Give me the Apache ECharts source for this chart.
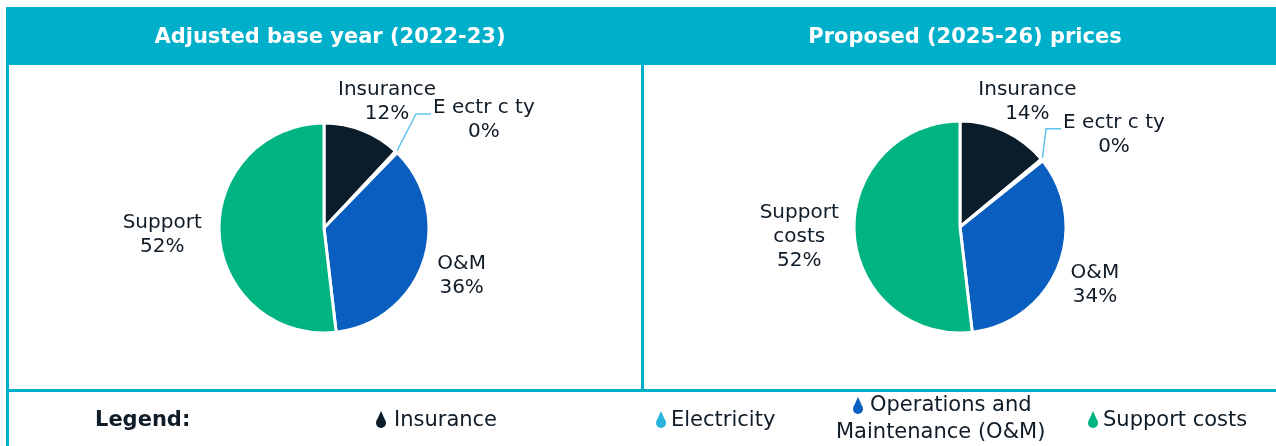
<!DOCTYPE html>
<html>
<head>
    <meta charset="utf-8">
    <script src="https://cdn.jsdelivr.net/npm/echarts@6/dist/echarts.min.js"></script>
    <style>
        html, body { margin: 0; padding: 0; background: #fff; }
    </style>
</head>
<body>
    <div id="main" style="width:1276px;height:446px;"></div>
    <script type="text/javascript">
        // slice categories (legend names) and colours
        var categories = ['Insurance', 'Electricity', 'O&M', 'Support costs'];
        var sliceColors = ['#0b1d2b', '#2ab5dc', '#0a5ebf', '#00b482'];

        // labels as printed on each pie
        var baseLabels = ['Insurance', 'E ectr c ty', 'O&M', 'Support'];
        var propLabels = ['Insurance', 'E ectr c ty', 'O&M', 'Support\ncosts'];

        // shares (%), electricity is a sliver that rounds to 0%
        var baseValues = [12, 0.3, 36, 52];
        var propValues = [14, 0.3, 34, 52];

        var panelTitles = ['Adjusted base year (2022-23)', 'Proposed (2025-26) prices'];
        var legendNames = ['Insurance', 'Electricity', 'Operations and\nMaintenance (O&M)', 'Support costs'];

        var teal = '#00b0ca';
        var ink = '#101c28';
        var font = 'DejaVu Sans';

        // label nudges per pie (after default outside layout)
        var labelNudge = [
            [[4, -15], [0, -3], [9, 9], [-27, 0]],
            [[1, -16], [-19, 0], [8, 12], [-25, 3]]
        ];

        var myChart = echarts.init(document.getElementById('main'));

        function buildData(values, labels) {
            var res = [];
            for (var i = 0; i < values.length; i++) {
                var item = {
                    name: categories[i],
                    value: values[i],
                    label: { formatter: makeLabel(labels[i], values[i]) },
                    itemStyle: { color: sliceColors[i] }
                };
                if (i === 1) {
                    item.labelLine = {
                        show: true,
                        length: 40,
                        length2: 4,
                        lineStyle: { color: '#5ec3ee', width: 1.5 }
                    };
                }
                res.push(item);
            }
            return res;
        }

        function makeLabel(text, value) {
            var lines = text.split('\n');
            var out = [];
            for (var i = 0; i < lines.length; i++) out.push('{t|' + lines[i] + '}');
            out.push('{t|' + Math.round(value) + '%}');
            return out.join('\n');
        }

        function pieSeries(idx, center, radius, values, labels) {
            return {
                type: 'pie',
                center: center,
                radius: radius,
                startAngle: 90,
                clockwise: true,
                avoidLabelOverlap: false,
                silent: true,
                animation: false,
                data: buildData(values, labels),
                itemStyle: { borderColor: '#fff', borderWidth: 3 },
                label: {
                    show: true,
                    position: 'outside',
                    color: ink,
                    fontFamily: font,
                    fontSize: 20,
                    lineHeight: 24,
                    rich: {
                        t: { align: 'center', fontFamily: font, fontSize: 20, lineHeight: 24, color: ink }
                    }
                },
                labelLine: { show: false, length: 15, length2: 10 },
                labelLayout: function (p) {
                    var n = labelNudge[idx][p.dataIndex];
                    if (p.dataIndex === 1 && p.labelLinePoints) {
                        // leader: from slice edge, up to the label's first line, then across
                        var r = p.labelRect;
                        var left = r.x + n[0];
                        var ly = r.y + n[1] + 18;
                        var p0 = p.labelLinePoints[0];
                        return {
                            dx: n[0], dy: n[1],
                            labelLinePoints: [p0, [left - 17, ly], [left - 2, ly]]
                        };
                    }
                    return { align: 'center', dx: n[0], dy: n[1] };
                }
            };
        }

        // legend row drawn as graphic (droplet + text)
        function dropIcon(x, y, color) {
            return {
                type: 'group',
                children: [
                    { type: 'circle', shape: { cx: x, cy: y + 3, r: 5 }, style: { fill: color } },
                    { type: 'polygon', shape: { points: [[x, y - 9], [x - 4.6, y + 1.2], [x + 4.6, y + 1.2]] }, style: { fill: color } }
                ]
            };
        }
        function txt(x, y, s, opts) {
            return {
                type: 'text',
                x: x, y: y,
                style: Object.assign({
                    text: s, fill: ink, font: '21px "' + font + '"',
                    textAlign: 'left', textVerticalAlign: 'middle'
                }, opts || {})
            };
        }

        var graphics = [
            { type: 'rect', shape: { x: 8, y: 7, width: 1268, height: 58 }, style: { fill: teal } },
            { type: 'rect', shape: { x: 6, y: 7, width: 3, height: 439 }, style: { fill: teal } },
            { type: 'rect', shape: { x: 641, y: 65, width: 3, height: 326 }, style: { fill: teal } },
            { type: 'rect', shape: { x: 6, y: 389, width: 1270, height: 3 }, style: { fill: teal } },
            txt(95, 421, 'Legend:', { font: 'bold 21px "' + font + '"' }),
            dropIcon(381, 420, sliceColors[0]),
            txt(394, 421, legendNames[0]),
            dropIcon(661, 420, sliceColors[1]),
            txt(671, 421, legendNames[1]),
            dropIcon(858, 406, sliceColors[2]),
            txt(870, 406, legendNames[2].split('\n')[0]),
            txt(836, 433, legendNames[2].split('\n')[1]),
            dropIcon(1093, 420, sliceColors[3]),
            txt(1103, 421, legendNames[3])
        ];

        var option = {
            backgroundColor: '#fff',
            animation: false,
            title: [
                {
                    text: panelTitles[0], left: 325, top: 33, textAlign: 'center', textVerticalAlign: 'middle',
                    textStyle: { color: '#fff', fontFamily: font, fontWeight: 'bold', fontSize: 21 }
                },
                {
                    text: panelTitles[1], left: 960, top: 33, textAlign: 'center', textVerticalAlign: 'middle',
                    textStyle: { color: '#fff', fontFamily: font, fontWeight: 'bold', fontSize: 21 }
                }
            ],
            graphic: graphics,
            series: [
                pieSeries(0, [324, 228], 105, baseValues, baseLabels),
                pieSeries(1, [960, 227], 106, propValues, propLabels)
            ]
        };

        myChart.setOption(option);
    </script>
</body>
</html>
